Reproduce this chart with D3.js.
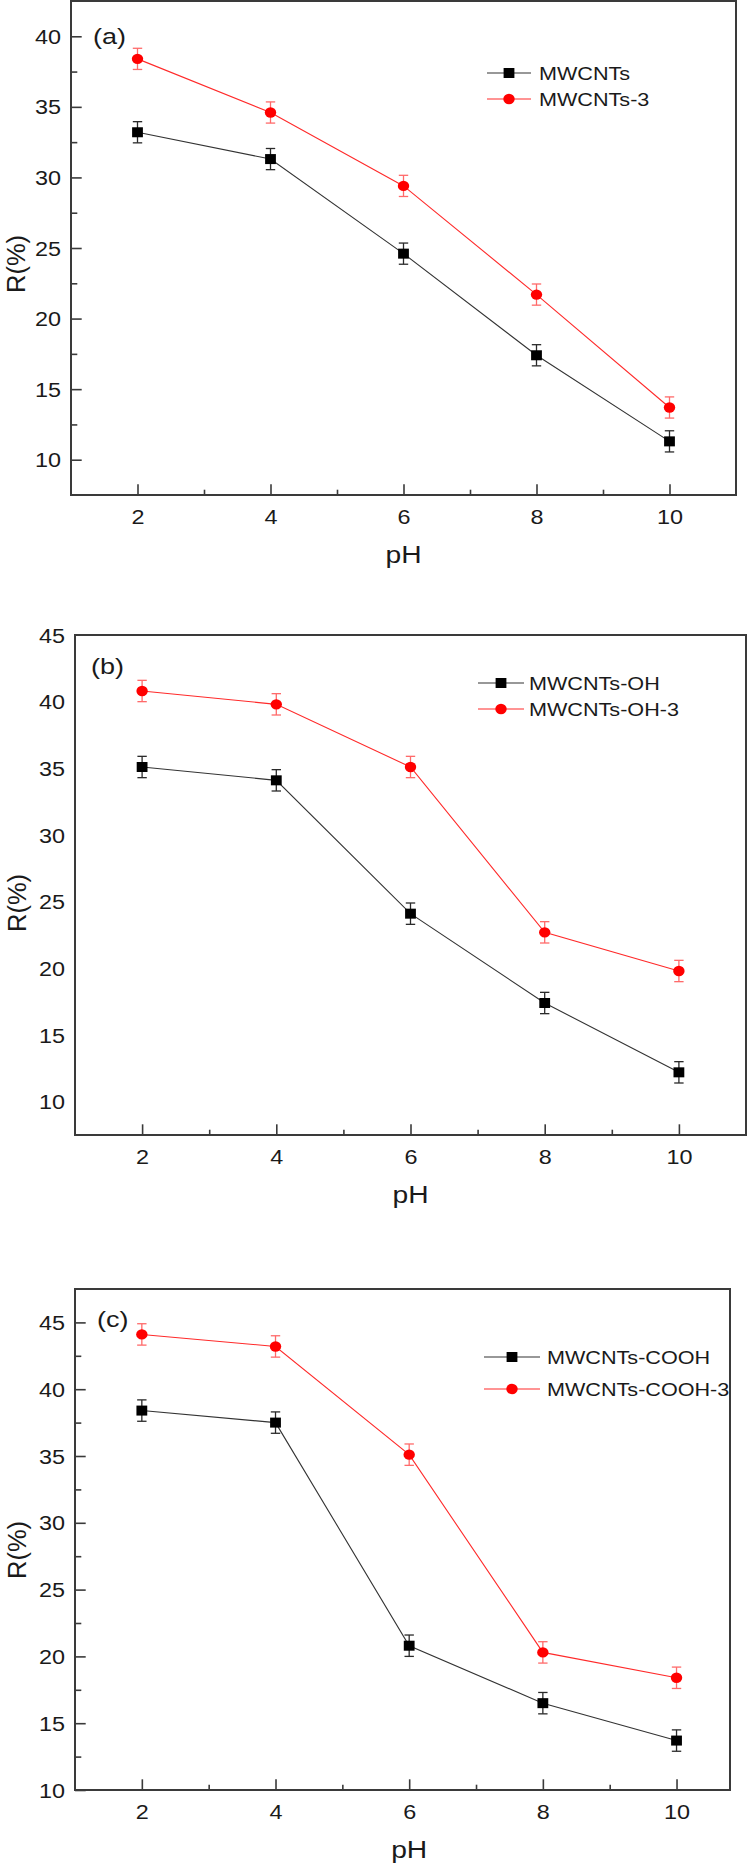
<!DOCTYPE html>
<html><head><meta charset="utf-8">
<script src="https://cdn.jsdelivr.net/npm/d3@7"></script>
<style>
body{margin:0;background:#fff}
svg{display:block}
text{font-family:"Liberation Sans",Arial,sans-serif;fill:#1a1a1a}
</style>
</head><body><svg id="chart" width="750" height="1864"></svg>
<script>
// ---------- data ----------
const pH = [2, 4, 6, 8, 10];
const xTickValues = [2, 4, 6, 8, 10];
const xMinorValues = [3, 5, 7, 9];

// panel (a)
const aNames = ["MWCNTs", "MWCNTs-3"];
const aBlack = [33.2, 31.3, 24.6, 17.4, 11.3];
const aBlackErr = [0.75, 0.75, 0.75, 0.75, 0.75];
const aRed = [38.4, 34.6, 29.4, 21.7, 13.7];
const aRedErr = [0.75, 0.75, 0.75, 0.75, 0.75];
const aYTicks = [10, 15, 20, 25, 30, 35, 40];
const aYMinor = [12.5, 17.5, 22.5, 27.5, 32.5, 37.5];

// panel (b)
const bNames = ["MWCNTs-OH", "MWCNTs-OH-3"];
const bBlack = [35.1, 34.1, 24.1, 17.4, 12.2];
const bBlackErr = [0.8, 0.8, 0.8, 0.8, 0.8];
const bRed = [40.8, 39.8, 35.1, 22.7, 19.8];
const bRedErr = [0.8, 0.8, 0.8, 0.8, 0.8];
const bYTicks = [10, 15, 20, 25, 30, 35, 40, 45];
const bYMinor = [];

// panel (c)
const cNames = ["MWCNTs-COOH", "MWCNTs-COOH-3"];
const cBlack = [38.4, 37.5, 20.8, 16.5, 13.7];
const cBlackErr = [0.8, 0.8, 0.8, 0.8, 0.8];
const cRed = [44.1, 43.2, 35.1, 20.3, 18.4];
const cRedErr = [0.8, 0.8, 0.8, 0.8, 0.8];
const cYTicks = [10, 15, 20, 25, 30, 35, 40, 45];
const cYMinor = [12.5, 17.5, 22.5, 27.5, 32.5, 37.5, 42.5];

const titleX = "pH";
const titleY = "R(%)";

// ---------- layout / style ----------
const SX = 1.2;          // horizontal stretch of the original picture
const FRAME = "#3a3a3a";
const BLACK = "#333";
const RED = "#ff2a2a";
const RED_ERR = "#ff6a6a";

const panels = [
  {label:"(a)", names:aNames, black:aBlack, blackErr:aBlackErr, red:aRed, redErr:aRedErr,
   yTicks:aYTicks, yMinor:aYMinor, yTickMarks:true,
   left:71, right:736, top:1, bottom:495, yDom:[7.5, 42.5], xDom:[1, 11],
   labelPos:[93, 44], leg:{x:487, len:44, tx:539, y:73, dy:26}, rX:25, rY:264},
  {label:"(b)", names:bNames, black:bBlack, blackErr:bBlackErr, red:bRed, redErr:bRedErr,
   yTicks:bYTicks, yMinor:bYMinor, yTickMarks:false,
   left:75, right:746, top:635, bottom:1135, yDom:[7.5, 45], xDom:[1, 11],
   labelPos:[91, 674], leg:{x:478, len:46, tx:529, y:683, dy:26}, rX:26, rY:903},
  {label:"(c)", names:cNames, black:cBlack, blackErr:cBlackErr, red:cRed, redErr:cRedErr,
   yTicks:cYTicks, yMinor:cYMinor, yTickMarks:true,
   left:75, right:730, top:1289, bottom:1790, yDom:[10, 47.5], xDom:[1, 10.8],
   labelPos:[97, 1327], leg:{x:484, len:56, tx:547, y:1357, dy:32}, rX:26, rY:1550}
];

const svg = d3.select("#chart");

function stretchText(g, x, y, str, size, anchor) {
  return g.append("text")
    .attr("transform", `translate(${x},${y}) scale(${SX},1)`)
    .attr("font-size", size)
    .attr("text-anchor", anchor)
    .text(str);
}

function square(g, cx, cy) {
  g.append("rect").attr("x", cx - 5.4).attr("y", cy - 5).attr("width", 10.8).attr("height", 10)
    .attr("fill", "#000");
}
function dot(g, cx, cy) {
  g.append("ellipse").attr("cx", cx).attr("cy", cy).attr("rx", 5.7).attr("ry", 5.2)
    .attr("fill", "#ff0000");
}

panels.forEach(p => {
  const g = svg.append("g");
  const x = d3.scaleLinear().domain(p.xDom).range([p.left, p.right]);
  const y = d3.scaleLinear().domain(p.yDom).range([p.bottom, p.top]);

  // y axis major ticks + labels
  const yAxis = d3.axisLeft(y).tickValues(p.yTicks)
    .tickSize(p.yTickMarks ? -10.7 : 0).tickPadding(10).tickFormat(d3.format("d"));
  const gy = g.append("g").attr("transform", `translate(${p.left},0)`).call(yAxis);
  gy.select(".domain").remove();
  gy.selectAll(".tick line").attr("stroke", FRAME).attr("stroke-width", 1.6);
  gy.selectAll(".tick text").each(function () {
    const t = d3.select(this);
    t.attr("x", null).attr("dy", null)
      .attr("transform", `translate(-10,7) scale(${SX},1)`)
      .attr("font-size", 19.5).attr("fill", "#1a1a1a")
      .attr("font-family", '"Liberation Sans",Arial,sans-serif');
  });
  // y minor ticks
  if (p.yMinor.length) {
    const gym = g.append("g").attr("transform", `translate(${p.left},0)`)
      .call(d3.axisLeft(y).tickValues(p.yMinor).tickSize(-6.3).tickFormat(""));
    gym.select(".domain").remove();
    gym.selectAll(".tick line").attr("stroke", FRAME).attr("stroke-width", 1.6);
  }

  // x axis major ticks + labels
  const gx = g.append("g").attr("transform", `translate(0,${p.bottom})`)
    .call(d3.axisBottom(x).tickValues(xTickValues).tickSize(-10.7).tickPadding(15).tickFormat(d3.format("d")));
  gx.select(".domain").remove();
  gx.selectAll(".tick line").attr("stroke", FRAME).attr("stroke-width", 1.6);
  gx.selectAll(".tick text").each(function () {
    const t = d3.select(this);
    t.attr("y", null).attr("dy", null)
      .attr("transform", `translate(0,28.5) scale(${SX},1)`)
      .attr("font-size", 19.5).attr("fill", "#1a1a1a")
      .attr("font-family", '"Liberation Sans",Arial,sans-serif');
  });
  const gxm = g.append("g").attr("transform", `translate(0,${p.bottom})`)
    .call(d3.axisBottom(x).tickValues(xMinorValues).tickSize(-5.3).tickFormat(""));
  gxm.select(".domain").remove();
  gxm.selectAll(".tick line").attr("stroke", FRAME).attr("stroke-width", 1.6);

  // frame
  g.append("rect").attr("x", p.left).attr("y", p.top)
    .attr("width", p.right - p.left).attr("height", p.bottom - p.top)
    .attr("fill", "none").attr("stroke", FRAME).attr("stroke-width", 2);

  // titles
  stretchText(g, x(6), p.bottom + 68, titleX, 23.5, "middle");
  g.append("text").attr("transform", `translate(${p.rX},${p.rY}) rotate(-90)`)
    .attr("font-size", 25.5).attr("text-anchor", "middle").text(titleY);
  stretchText(g, p.labelPos[0], p.labelPos[1], p.label, 22.5, "start");

  const line = d3.line().x((d, i) => x(pH[i])).y(d => y(d));
  const series = [
    {vals:p.black, err:p.blackErr, stroke:BLACK, errStroke:"#2a2a2a", marker:square},
    {vals:p.red, err:p.redErr, stroke:RED, errStroke:RED_ERR, marker:dot}
  ];
  series.forEach(s => {
    g.append("path").datum(s.vals).attr("d", line)
      .attr("fill", "none").attr("stroke", s.stroke).attr("stroke-width", 1.1);
  });
  series.forEach(s => {
    s.vals.forEach((v, i) => {
      const cx = x(pH[i]), y1 = y(v + s.err[i]), y2 = y(v - s.err[i]);
      g.append("line").attr("x1", cx).attr("x2", cx).attr("y1", y1).attr("y2", y2)
        .attr("stroke", s.errStroke).attr("stroke-width", 1.3);
      [y1, y2].forEach(yy => g.append("line").attr("x1", cx - 4.7).attr("x2", cx + 4.7)
        .attr("y1", yy).attr("y2", yy).attr("stroke", s.errStroke).attr("stroke-width", 1.3));
    });
    s.vals.forEach((v, i) => s.marker(g, x(pH[i]), y(v)));
  });

  // legend
  series.forEach((s, k) => {
    const ly = p.leg.y + k * p.leg.dy;
    g.append("line").attr("x1", p.leg.x).attr("x2", p.leg.x + p.leg.len)
      .attr("y1", ly).attr("y2", ly).attr("stroke", s.stroke).attr("stroke-width", 1.1);
    s.marker(g, p.leg.x + p.leg.len / 2, ly);
    stretchText(g, p.leg.tx, ly + 6.5, p.names[k], 18, "start");
  });
});
</script>
</body></html>
